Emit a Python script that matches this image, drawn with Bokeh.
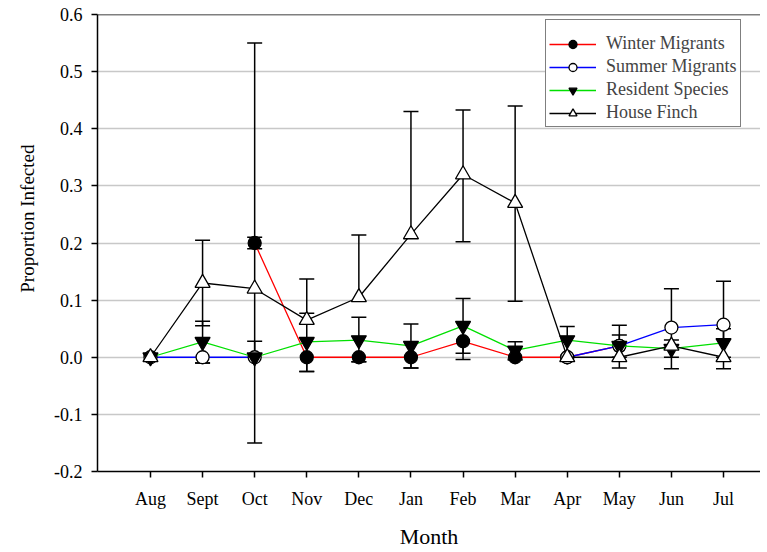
import math
from bokeh.plotting import figure
from bokeh.models import FixedTicker, NumeralTickFormatter, Span, Legend, Title
from bokeh.embed import file_html
from bokeh.resources import INLINE

nan = float("nan")

months = ["Aug", "Sept", "Oct", "Nov", "Dec", "Jan", "Feb", "Mar", "Apr", "May", "Jun", "Jul"]
y_ticks = [-0.2, -0.1, 0.0, 0.1, 0.2, 0.3, 0.4, 0.5, 0.6]

winter = [nan, nan, 0.20, 0.0, 0.0, 0.0, 0.028, 0.0, 0.0, 0.02, nan, nan]
winter_lo = [nan, nan, 0.19, -0.025, -0.008, -0.019, -0.004, -0.005, nan, 0.0, nan, nan]
winter_hi = [nan, nan, 0.21, nan, nan, nan, nan, nan, nan, 0.039, nan, nan]

summer = [0.0, 0.0, 0.0, nan, nan, nan, nan, nan, 0.0, 0.02, 0.052, 0.057]
summer_lo = [nan, -0.01, nan, nan, nan, nan, nan, nan, nan, nan, -0.02, -0.02]
summer_hi = [nan, nan, nan, nan, nan, nan, nan, nan, nan, nan, 0.12, 0.133]

resident = [0.0, 0.027, 0.0, 0.027, 0.030, 0.020, 0.055, 0.012, 0.030, 0.020, 0.015, 0.025]
resident_lo = [nan, -0.01, nan, -0.025, -0.008, -0.019, 0.007, -0.003, 0.0, -0.019, 0.0, 0.0]
resident_hi = [nan, 0.063, 0.028, 0.077, 0.070, 0.058, 0.103, 0.027, 0.054, 0.056, 0.030, 0.050]

finch = [0.0, 0.13, 0.12, 0.065, 0.105, 0.215, 0.32, 0.27, 0.0, 0.0, 0.02, 0.0]
finch_lo = [nan, 0.055, -0.15, nan, nan, nan, 0.202, 0.098, nan, nan, nan, nan]
finch_hi = [nan, 0.205, 0.55, 0.137, 0.214, 0.43, 0.433, 0.44, nan, nan, nan, nan]

FONT = "Liberation Serif"

p = figure(width=760, height=551, output_backend="svg", toolbar_location=None,
           x_range=(-1.017, 11.71), y_range=(-0.2, 0.6),
           min_border_left=97, min_border_right=0, min_border_top=14, min_border_bottom=76)
p.outline_line_color = None
p.xgrid.grid_line_color = None
p.ygrid.grid_line_color = "#c8c8c8"
p.ygrid.grid_line_width = 1.3
p.ygrid.ticker = FixedTicker(ticks=y_ticks)

# axes
p.xaxis.ticker = FixedTicker(ticks=list(range(len(months))))
p.xaxis.major_label_overrides = {i: m for i, m in enumerate(months)}
p.yaxis.ticker = FixedTicker(ticks=y_ticks)
p.yaxis.formatter = NumeralTickFormatter(format="0.0")
for ax in (p.xaxis[0], p.yaxis[0]):
    ax.axis_line_color = "black"
    ax.axis_line_width = 1.5
    ax.major_tick_line_color = "black"
    ax.major_tick_line_width = 1.5
    ax.major_tick_out = 6
    ax.major_tick_in = 0
    ax.minor_tick_line_color = None
    ax.major_label_text_font = FONT
    ax.major_label_text_font_size = "18px"
    ax.major_label_text_color = "black"
    ax.axis_label_text_font = FONT
    ax.axis_label_text_font_size = "22px"
    ax.axis_label_text_font_style = "normal"
    ax.axis_label_text_color = "black"
p.xaxis.axis_label = "Month"
p.xaxis.major_label_standoff = 11
p.xaxis.axis_label_standoff = 12
p.yaxis.major_label_standoff = 9

ylab = Title(text="Proportion Infected", align="right", offset=130, standoff=28,
             text_font=FONT, text_font_size="19px", text_font_style="normal",
             text_color="black")
p.add_layout(ylab, "left")

p.add_layout(Span(location=0.6, dimension="width", line_color="black", line_width=1.5))

# error bars
seg_x, seg_y0, seg_y1, cap_x, cap_y = [], [], [], [], []
for vals, los, his in ((winter, winter_lo, winter_hi), (summer, summer_lo, summer_hi),
                       (resident, resident_lo, resident_hi), (finch, finch_lo, finch_hi)):
    for i, (v, lo, hi) in enumerate(zip(vals, los, his)):
        if math.isnan(v):
            continue
        for e in (lo, hi):
            if not math.isnan(e):
                seg_x.append(i)
                seg_y0.append(v)
                seg_y1.append(e)
                cap_x.append(i)
                cap_y.append(e)
p.segment(x0=seg_x, y0=seg_y0, x1=seg_x, y1=seg_y1, line_color="black", line_width=1.5)
p.scatter(x=cap_x, y=cap_y, marker="dash", size=15, line_color="black", line_width=1.5)

xs = list(range(len(months)))
items = []
series = [
    ("Winter Migrants", winter, "#ff0000", "circle", "black", 13),
    ("Summer Migrants", summer, "#0000ff", "circle", "white", 13),
    ("Resident Species", resident, "#00e000", "inverted_triangle", "black", 15),
    ("House Finch", finch, "black", "triangle", "white", 15),
]
for name, vals, col, mk, fill, sz in series:
    ln = p.line(x=xs, y=vals, line_color=col, line_width=1.3)
    sc = p.scatter(x=xs, y=vals, marker=mk, size=sz, fill_color=fill,
                   line_color="black", line_width=1.3)
    items.append((name, [ln, sc]))

legend = Legend(items=items, location=(448, 344))
legend.title = " "
legend.title_text_font_size = "9px"
legend.title_standoff = 0
legend.label_text_font = FONT
legend.label_text_font_size = "18px"
legend.label_height = 20
legend.glyph_height = 20
legend.glyph_width = 47
legend.label_standoff = 10
legend.spacing = 2
legend.padding = 3
legend.margin = 0
legend.border_line_color = "black"
legend.border_line_width = 1.5
legend.background_fill_alpha = 1
p.add_layout(legend, "center")

open("out.html", "w").write(file_html(p, INLINE))
